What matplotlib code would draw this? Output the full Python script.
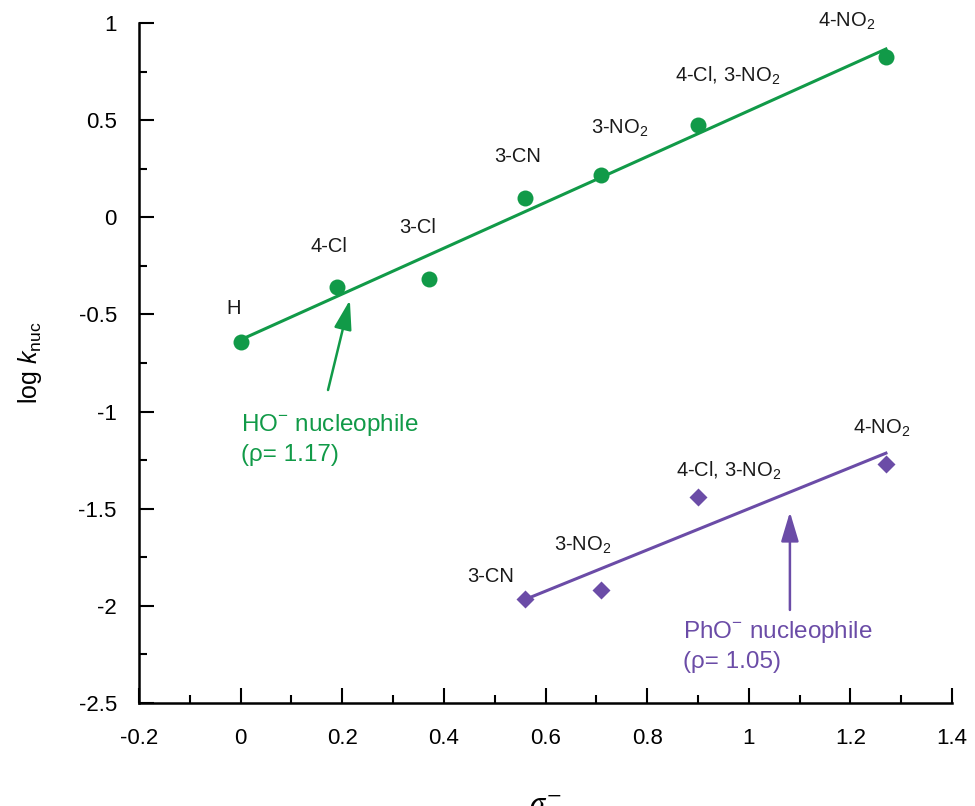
import numpy as np
import matplotlib.pyplot as plt
from matplotlib.ticker import MultipleLocator

plt.rcParams['font.family'] = 'Liberation Sans'
plt.rcParams['mathtext.fontset'] = 'custom'
plt.rcParams['mathtext.rm'] = 'Liberation Sans'
plt.rcParams['mathtext.it'] = 'Liberation Sans:italic'

# Hammett data: sigma- vs log k_nuc
ho_sigma = [0.0, 0.19, 0.37, 0.56, 0.71, 0.90, 1.27]
ho_logk = [-0.64, -0.36, -0.32, 0.10, 0.22, 0.475, 0.825]
ho_labels = ['H', '4-Cl', '3-Cl', '3-CN', '3-NO$_2$', '4-Cl, 3-NO$_2$', '4-NO$_2$']

pho_sigma = [0.56, 0.71, 0.90, 1.27]
pho_logk = [-1.965, -1.92, -1.44, -1.27]
pho_labels = ['3-CN', '3-NO$_2$', '4-Cl, 3-NO$_2$', '4-NO$_2$']

green = '#119a48'
purple = '#6b4ca7'

# label offsets in pixels (dx, dy to baseline)
ho_offsets = [(-7, 28), (-8, 35), (-11, 46), (-8, 36), (18, 41), (30, 43), (-39, 30)]
pho_offsets = [(-35, 17), (-19, 40), (31, 20), (-4, 30)]

fig = plt.figure(figsize=(9.75, 8.06), dpi=100)
ax = fig.add_axes([139 / 975, 103 / 806, 813 / 975, 680 / 806])

# fitted lines
for xs, ys, c in [(ho_sigma, ho_logk, green), (pho_sigma, pho_logk, purple)]:
    m, b = np.polyfit(xs, ys, 1)
    xl = np.array([min(xs), max(xs)])
    ax.plot(xl, m * xl + b, color=c, lw=2.2, zorder=2)

ax.plot(ho_sigma, ho_logk, 'o', color=green, ms=11.5, mec='none', zorder=3)
ax.plot(pho_sigma, pho_logk, 'D', color=purple, ms=9, mec='none', zorder=3)

for x, y, lab, (dx, dy) in zip(ho_sigma, ho_logk, ho_labels, ho_offsets):
    ax.annotate(lab, (x, y), xytext=(dx, dy), textcoords='offset pixels',
                ha='center', va='baseline', fontsize=14.5, color='#1a1a1a')
for x, y, lab, (dx, dy) in zip(pho_sigma, pho_logk, pho_labels, pho_offsets):
    ax.annotate(lab, (x, y), xytext=(dx, dy), textcoords='offset pixels',
                ha='center', va='baseline', fontsize=14.5, color='#1a1a1a')

# nucleophile notes
ax.text(0.0, -1.10, 'HO$^{-}$ nucleophile', color=green, fontsize=17.5, va='baseline')
ax.text(0.0, -1.254, '(ρ= 1.17)', color=green, fontsize=17.5, va='baseline')
ax.annotate('', xy=(0.215, -0.426), xytext=(0.172, -0.889),
            arrowprops=dict(arrowstyle='-|>,head_length=0.6,head_width=0.18',
                            mutation_scale=30, lw=1.8, color=green,
                            shrinkA=0, shrinkB=0))

ax.text(0.871, -2.165, 'PhO$^{-}$ nucleophile', color=purple, fontsize=17.5, va='baseline')
ax.text(0.871, -2.32, '(ρ= 1.05)', color=purple, fontsize=17.5, va='baseline')
ax.annotate('', xy=(1.081, -1.517), xytext=(1.081, -2.021),
            arrowprops=dict(arrowstyle='-|>,head_length=0.6,head_width=0.18',
                            mutation_scale=30, lw=1.8, color=purple,
                            shrinkA=0, shrinkB=0))

ax.set_xlim(-0.2, 1.4)
ax.set_ylim(-2.5, 1)
ax.xaxis.set_major_locator(MultipleLocator(0.2))
ax.xaxis.set_minor_locator(MultipleLocator(0.1))
ax.yaxis.set_major_locator(MultipleLocator(0.5))
ax.yaxis.set_minor_locator(MultipleLocator(0.25))
ax.xaxis.set_major_formatter(plt.FuncFormatter(lambda v, p: f'{v:g}'))
ax.yaxis.set_major_formatter(plt.FuncFormatter(lambda v, p: f'{v:g}'))

for s in ['top', 'right']:
    ax.spines[s].set_visible(False)
for s in ['left', 'bottom']:
    ax.spines[s].set_linewidth(1.8)
ax.tick_params(which='major', direction='in', length=10.5, width=1.5, labelsize=16)
ax.tick_params(which='minor', direction='in', length=5.5, width=1.5)
ax.tick_params(axis='y', which='major', pad=16)
ax.tick_params(axis='x', which='major', pad=18)

fig.text(30 / 975, (806 - 363) / 806, r'log $k_{\mathrm{nuc}}$',
         rotation=90, ha='center', va='center', fontsize=18)
fig.text(545.5 / 975, 16 / 806, r'$\sigma^{-}$', ha='center', va='top',
         fontsize=22, math_fontfamily='stix')

fig.savefig('out.png', dpi=100)
